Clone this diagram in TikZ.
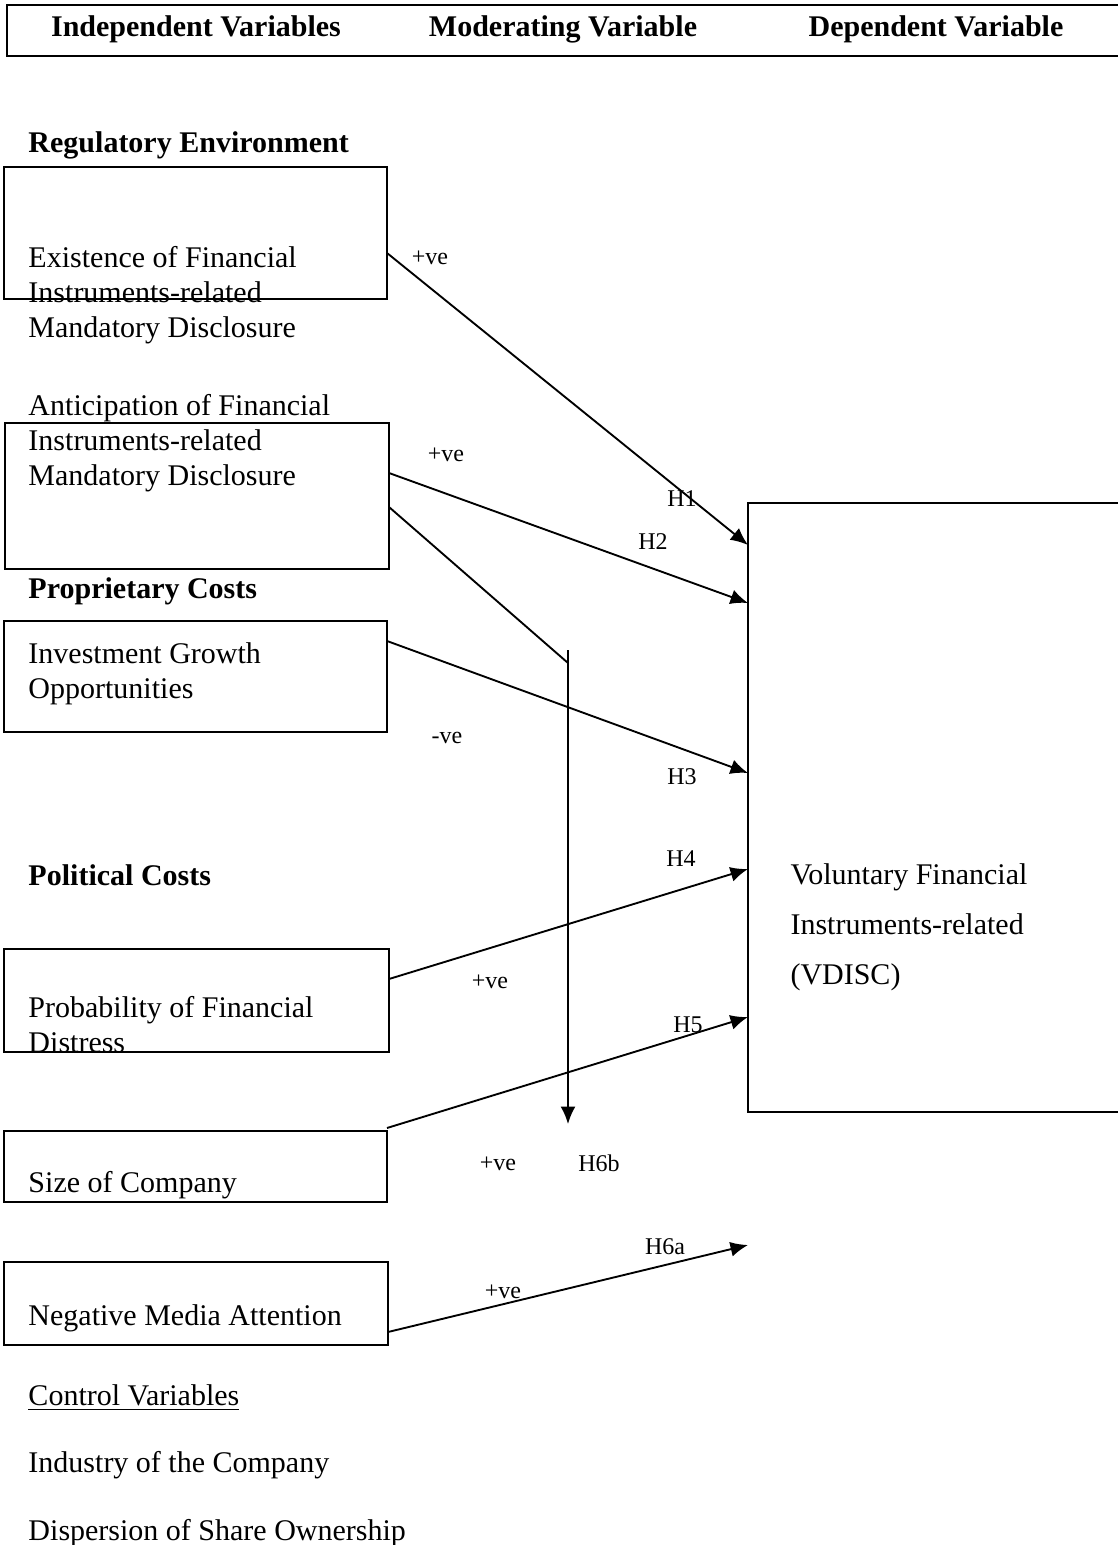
\documentclass[tikz,border=0pt]{standalone}
\usepackage{fontspec}
\setmainfont{Liberation Serif}
\usepackage{tikz}
\usetikzlibrary{arrows.meta}
% a framed variable box from its top left to its bottom right corner (pixels)
\newcommand{\varbox}[5]{
  \node[varbox, minimum width={(#4-#2)*0.4pt},
                minimum height={(#5-#3)*0.4pt}] (#1) at (#2,#3) {};
}
\tikzset{
  every node/.style = {font=\fontsize{12}{14}\selectfont},
  varbox/.style     = {draw, line width=0.8pt, inner sep=0pt, outer sep=0pt,
                       anchor=north west},
  vartext/.style    = {anchor=west, align=left, inner sep=0pt},
  heading/.style    = {vartext, font=\fontsize{12}{14}\selectfont\bfseries},
  sign/.style       = {inner sep=0pt, font=\fontsize{9.6}{11}\selectfont},
  link/.style       = {line width=0.75pt, -{Latex[length=7pt,width=6pt]}},
  plain/.style      = {line width=0.75pt}
}

\begin{document}
\begin{tikzpicture}[x=0.4pt, y=-0.4pt]
  \useasboundingbox (0,0) rectangle (1118,1545);

  % column titles
  \varbox{top}{7}{5}{1130}{56}
  \node[heading, anchor=center] (tindep) at (196,29) {Independent Variables};
  \node[heading, anchor=center] (tmod)   at (563,29) {Moderating Variable};
  \node[heading, anchor=center] (tdep)   at (936,29) {Dependent Variable};

  % regulatory environment
  \node[heading] (reg) at (28,145) {Regulatory Environment};
  \varbox{exist}{4}{167}{387}{299}
  \node[vartext] (existtxt) at (28,295)
    {Existence of Financial\\Instruments-related\\Mandatory Disclosure};
  \varbox{antic}{5}{423}{389}{569}
  \node[vartext] (antictxt) at (28,443)
    {Anticipation of Financial\\Instruments-related\\Mandatory Disclosure};

  % proprietary costs
  \node[heading] (prop) at (28,591) {Proprietary Costs};
  \varbox{invest}{4}{621}{387}{732}
  \node[vartext] (investtxt) at (28,674) {Investment Growth\\Opportunities};

  % political costs
  \node[heading] (pol) at (28,875) {Political Costs};
  \varbox{prob}{4}{949}{389}{1052}
  \node[vartext] (probtxt) at (28,1025) {Probability of Financial\\Distress};
  \varbox{size}{4}{1131}{387}{1202}
  \node[vartext] (sizetxt) at (28,1185) {Size of Company};
  \varbox{media}{4}{1262}{388}{1345}
  \node[vartext] (mediatxt) at (28,1318) {Negative Media Attention};

  % control variables
  \node[vartext] (ctrl) at (28,1398) {\underline{Control Variables}};
  \node[vartext] (indus) at (28,1465) {Industry of the Company};
  \node[vartext] (disp) at (28,1533) {Dispersion of Share Ownership};

  % dependent variable
  \varbox{vdisc}{748}{503}{1130}{1112}
  \node[vartext, font=\fontsize{12}{20}\selectfont] (vdisctxt) at (790,927)
    {Voluntary Financial\\Instruments-related\\(VDISC)};

  % arrow ends
  \coordinate (e1) at (748,545);
  \coordinate (e2) at (748,603);
  \coordinate (e3) at (748,773);
  \coordinate (e4) at (748,869);
  \coordinate (e5) at (748,1017);
  \coordinate (e6a) at (748,1245);
  \coordinate (mtop) at (568,650);
  \coordinate (mjoin) at (568,663);
  \coordinate (mend) at (568,1124);

  \draw[link] (exist.east |- 0,253) -- (e1);
  \draw[link] (antic.east |- 0,473) -- (e2);
  \draw[plain] (antic.east |- 0,507) -- (mjoin);
  \draw[link] (mtop) -- (mend);
  \draw[link] (invest.east |- 0,641) -- (e3);
  \draw[link] (prob.east |- 0,979) -- (e4);
  \draw[link] (size.east |- 0,1128) -- (e5);
  \draw[link] (media.east |- 0,1332) -- (e6a);

  % signs and hypotheses
  \node[sign] (s1) at (430,258) {+ve};
  \node[sign] (s2) at (446,455) {+ve};
  \node[sign] (s3) at (447,738) {-ve};
  \node[sign] (s4) at (490,982) {+ve};
  \node[sign] (s5) at (498,1164) {+ve};
  \node[sign] (s6) at (503,1292) {+ve};
  \node[sign] (h1) at (682,499) {H1};
  \node[sign] (h2) at (653,542) {H2};
  \node[sign] (h3) at (682,777) {H3};
  \node[sign] (h4) at (681,859) {H4};
  \node[sign] (h5) at (688,1025) {H5};
  \node[sign] (h6b) at (599,1163) {H6b};
  \node[sign] (h6a) at (665,1247) {H6a};
\end{tikzpicture}
\end{document}
